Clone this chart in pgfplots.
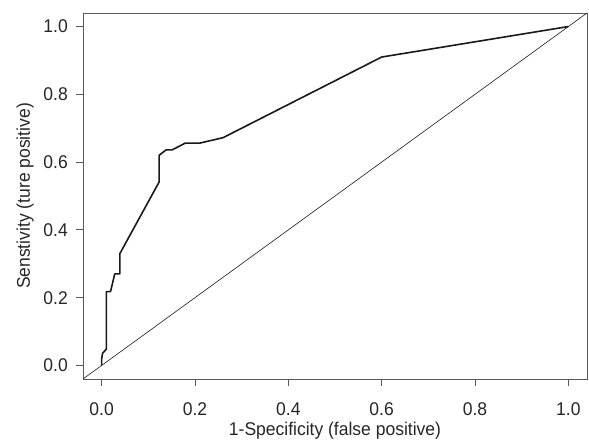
\documentclass[border=0pt]{standalone}
\usepackage{pgfplots}
\pgfplotsset{compat=1.18}
\usepackage{fontspec}
\setmainfont{Liberation Sans}[FakeStretch=0.95]
\begin{document}
\begin{tikzpicture}
\useasboundingbox (-83bp,-61bp) rectangle (506bp,379bp);
\begin{axis}[
  at={(0,0)}, anchor=south west,
  scale only axis, width=504bp, height=366bp,
  xmin=-0.04, xmax=1.04, ymin=-0.04, ymax=1.04,
  axis line style={draw=black!65, line width=0.8pt},
  xtick={0,0.2,0.4,0.6,0.8,1.0}, ytick={0,0.2,0.4,0.6,0.8,1.0},
  xtick pos=bottom, ytick pos=left,
  tick align=outside, major tick length=7bp,
  tick style={black!65, line width=0.8pt},
  /pgf/number format/assume math mode=true,
  /pgf/number format/.cd, fixed, fixed zerofill, precision=1, /pgfplots/.cd,
  tick label style={font=\fontsize{18.5}{22}\selectfont, text=black!85},
  xticklabel style={anchor=base, inner sep=0pt, yshift=-29bp},
  yticklabel style={anchor=east, inner sep=0pt, xshift=-8bp},
  label style={font=\fontsize{18.5}{22}\selectfont, text=black!85},
  xlabel={1-Specificity (false positive)},
  ylabel={Senstivity (ture positive)},
  xlabel style={at={(rel axis cs:0.5,0)}, anchor=base, inner sep=0pt, yshift=-56bp},
  ylabel style={at={(rel axis cs:0,0.5)}, anchor=base, inner sep=0pt, yshift=53bp},
  clip=true,
]
\addplot[black!90, line width=0.6pt] coordinates {(-0.04,-0.04) (1.04,1.04)};
\addplot[black!90, line width=1.6pt, line join=round] coordinates {
(0,0) (0,0.02) (0.002,0.036) (0.01,0.048) (0.01,0.218) (0.019,0.218)
(0.028,0.27) (0.039,0.27) (0.039,0.33) (0.123,0.541) (0.123,0.62)
(0.138,0.636) (0.151,0.636) (0.179,0.656) (0.21,0.656) (0.26,0.672)
(0.6,0.91) (1.0,1.0)};
\end{axis}
\end{tikzpicture}
\end{document}
